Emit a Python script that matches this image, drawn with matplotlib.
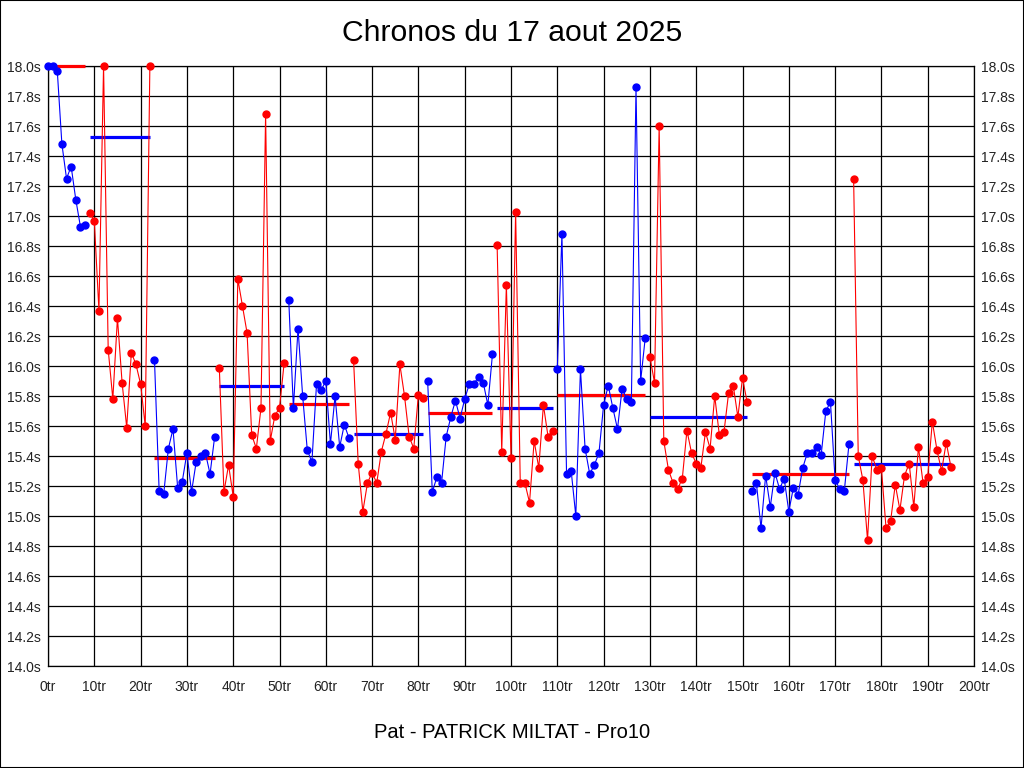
import numpy as np
import matplotlib.pyplot as plt
from matplotlib.patches import Rectangle

plt.rcParams['font.family'] = ['Liberation Sans', 'DejaVu Sans']

# Lap times (s), clipped at 18.0 as in the chart
laps = [18.00, 18.00, 17.97, 17.48, 17.25, 17.33, 17.11, 16.93, 16.94,
        17.02, 16.97, 16.37, 18.00, 16.11, 15.78, 16.32, 15.89, 15.59, 16.09, 16.01, 15.88, 15.60, 18.00,
        16.04, 15.17, 15.15, 15.45, 15.58, 15.19, 15.23, 15.42, 15.16, 15.36, 15.40, 15.42, 15.28, 15.53,
        15.99, 15.16, 15.34, 15.13, 16.58, 16.40, 16.22, 15.54, 15.45, 15.72, 17.68, 15.50, 15.67, 15.72, 16.02,
        16.44, 15.72, 16.25, 15.80, 15.44, 15.36, 15.88, 15.84, 15.90, 15.48, 15.80, 15.46, 15.61, 15.52,
        16.04, 15.35, 15.03, 15.22, 15.29, 15.22, 15.43, 15.55, 15.69, 15.51, 16.01, 15.80, 15.53, 15.45, 15.81, 15.79,
        15.90, 15.16, 15.26, 15.22, 15.53, 15.66, 15.77, 15.65, 15.78, 15.88, 15.88, 15.93, 15.89, 15.74, 16.08,
        16.81, 15.43, 16.54, 15.39, 17.03, 15.22, 15.22, 15.09, 15.50, 15.32, 15.74, 15.53, 15.57,
        15.98, 16.88, 15.28, 15.30, 15.00, 15.98, 15.45, 15.28, 15.34, 15.42, 15.74, 15.87, 15.72, 15.58, 15.85,
        15.78, 15.76, 17.86, 15.90, 16.19,
        16.06, 15.89, 17.60, 15.50, 15.31, 15.22, 15.18, 15.25, 15.57, 15.42, 15.35, 15.32, 15.56, 15.45, 15.80,
        15.54, 15.56, 15.82, 15.87, 15.66, 15.92, 15.76,
        15.17, 15.22, 14.92, 15.27, 15.06, 15.29, 15.18, 15.25, 15.03, 15.19, 15.14, 15.32, 15.42, 15.42, 15.46,
        15.41, 15.70, 15.76, 15.24, 15.18, 15.17, 15.48,
        17.25, 15.40, 15.24, 14.84, 15.40, 15.31, 15.32, 14.92, 14.97, 15.21, 15.04, 15.27, 15.35, 15.06, 15.46,
        15.22, 15.26, 15.63, 15.44, 15.30, 15.49, 15.33]

# first lap of each stint, and the mean line drawn for each stint
stint_starts = [0, 9, 23, 37, 52, 66, 82, 97, 110, 130, 152, 174]
stint_means = [18.0, 17.53, 15.385, 15.87, 15.75, 15.55, 15.69, 15.72, 15.81, 15.66, 15.28, 15.35]

fig = plt.figure(figsize=(10.24, 7.68), dpi=100)
ax = fig.add_axes([48 / 1024, 1 - 666 / 768, 926 / 1024, 600 / 768])

bounds = stint_starts + [len(laps)]
for k in range(len(stint_starts)):
    a, b = bounds[k], bounds[k + 1]
    x = np.arange(a, b)
    y = laps[a:b]
    col = 'blue' if k % 2 == 0 else 'red'
    other = 'red' if k % 2 == 0 else 'blue'
    ax.plot([a, b - 1], [stint_means[k], stint_means[k]], color=other, lw=2.3,
            solid_capstyle='butt', zorder=2.8, clip_on=False)
    ax.plot(x, y, color=col, lw=0.8, marker='o', markersize=5, zorder=3, clip_on=False)

ax.set_xlim(0, 200)
ax.set_ylim(14.0, 18.0)
ax.set_xticks(np.arange(0, 201, 10))
ax.set_xticklabels(['%dtr' % v for v in range(0, 201, 10)])
yt = np.arange(14.0, 18.01, 0.2)
ax.set_yticks(yt)
ax.set_yticklabels(['%.1fs' % v for v in yt])
ax.grid(True, color='black', lw=0.9)
ax.set_axisbelow(True)
ax.tick_params(length=0, labelsize=10, colors='#222222')
ax.tick_params(axis='y', pad=5, labelright=True)
ax.tick_params(axis='x', pad=10)
for s in ax.spines.values():
    s.set_linewidth(0.9)

fig.text(0.5, 1 - 33 / 768, 'Chronos du 17 aout 2025', ha='center', va='center', fontsize=21.7)
fig.text(0.5, 1 - 732 / 768, 'Pat - PATRICK MILTAT - Pro10', ha='center', va='center', fontsize=14.5)
fig.patches.append(Rectangle((0, 0), 1, 1, transform=fig.transFigure, fill=False,
                             edgecolor='black', lw=1.5))

plt.savefig('out.png', dpi=100)
